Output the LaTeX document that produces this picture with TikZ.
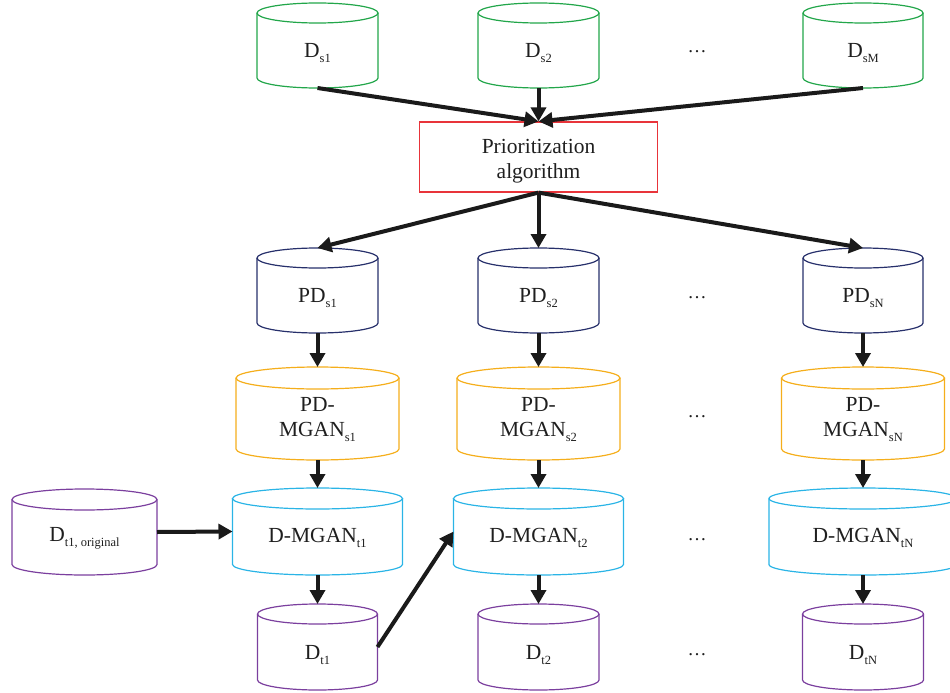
\documentclass[tikz,border=0pt]{standalone}
\usepackage{fontspec}
\setmainfont{Liberation Serif}
\usetikzlibrary{arrows.meta,calc}
\definecolor{cgreen}{HTML}{22A64A}
\definecolor{cred}{HTML}{E8343A}
\definecolor{cnavy}{HTML}{27306B}
\definecolor{corange}{HTML}{F5AE1B}
\definecolor{ccyan}{HTML}{2AB4E6}
\definecolor{cpurple}{HTML}{7B3F9E}
\definecolor{carrow}{HTML}{1A1A1A}
\newcommand{\lsub}[1]{\raisebox{-5pt}{\fontsize{12.5}{12.5}\selectfont #1}}
% name, cx, cy, width, height, colour, ry, text dy, text
\newcommand{\cylnode}[9]{%
  \node[cylbase, minimum width=#4pt, minimum height=#5pt] (#1) at (#2,#3) {};
  \draw[cylline, draw=#6] ($(#1.north west)+(0,#7)$) -- ($(#1.south west)+(0,-#7)$)
     arc[start angle=180, end angle=360, x radius=0.5*#4pt, y radius=#7pt]
     -- ($(#1.north east)+(0,#7)$);
  \draw[cylline, draw=#6] ($(#1.north)+(0,#7)$) ellipse[x radius=0.5*#4pt, y radius=#7pt];
  \node[cyltext] (#1-t) at ($(#1.center)+(0,#8)$) {#9};
}
\tikzset{
  cylbase/.style={rectangle, draw=none, inner sep=0pt, outer sep=0pt},
  cylline/.style={line width=1.2pt},
  cyltext/.style={font=\fontsize{21.5}{25.5}\selectfont, align=center, text=black!88, inner sep=0pt},
  algbox/.style={rectangle, draw=cred, line width=1.2pt, inner sep=0pt},
  dotsnode/.style={font=\fontsize{19}{19}\selectfont, text=black!88, inner sep=0pt},
  arr/.style={draw=carrow, line width=4pt, -{Triangle[length=14pt,width=15pt]}}
}
\begin{document}
\begin{tikzpicture}[x=1pt,y=-1pt]
\useasboundingbox (0,0) rectangle (950,693);
% row 1: source data sets
\cylnode{Ds1}{317.5}{45.5}{121}{85}{cgreen}{10}{8}{D\lsub{s1}}
\cylnode{Ds2}{538.5}{45.5}{121}{85}{cgreen}{10}{8}{D\lsub{s2}}
\cylnode{DsM}{863}{45.5}{120}{85}{cgreen}{10}{8}{D\lsub{sM}}
\node[dotsnode] (dots1) at (697,52) {…};
% algorithm box
\node[algbox, minimum width=238pt, minimum height=70pt] (box) at (538.5,157) {};
\node[cyltext] (box-t) at ($(box.center)+(0,4)$) {Prioritization\\algorithm};
% row 2
\cylnode{PDs1}{317.5}{290.5}{121}{85}{cnavy}{10}{8}{PD\lsub{s1}}
\cylnode{PDs2}{538.5}{290.5}{121}{85}{cnavy}{10}{8}{PD\lsub{s2}}
\cylnode{PDsN}{863}{290.5}{120}{85}{cnavy}{10}{8}{PD\lsub{sN}}
\node[dotsnode] (dots2) at (697,298) {…};
% row 3
\cylnode{PMs1}{317.5}{413.5}{163}{93}{corange}{11}{6}{PD-\\MGAN\lsub{s1}}
\cylnode{PMs2}{538.5}{413.5}{163}{93}{corange}{11}{6}{PD-\\MGAN\lsub{s2}}
\cylnode{PMsN}{863}{413.5}{163}{93}{corange}{11}{6}{PD-\\MGAN\lsub{sN}}
\node[dotsnode] (dots3) at (697,417) {…};
% row 4
\cylnode{Dto}{84.5}{532}{145}{86}{cpurple}{10.5}{6}{D\lsub{t1, original}}
\cylnode{DMt1}{317.5}{531.5}{170}{87}{ccyan}{10.5}{6}{D-MGAN\lsub{t1}}
\cylnode{DMt2}{538.5}{531.5}{170}{87}{ccyan}{10.5}{6}{D-MGAN\lsub{t2}}
\cylnode{DMtN}{863}{531.5}{188}{87}{ccyan}{10.5}{6}{D-MGAN\lsub{tN}}
\node[dotsnode] (dots4) at (697,540) {…};
% row 5
\cylnode{Dt1}{317.5}{647}{120}{86}{cpurple}{10}{8}{D\lsub{t1}}
\cylnode{Dt2}{538.5}{647}{121}{86}{cpurple}{10}{8}{D\lsub{t2}}
\cylnode{DtN}{863}{647}{121}{86}{cpurple}{10}{8}{D\lsub{tN}}
\node[dotsnode] (dots5) at (697,655) {…};
% connectors
\draw[arr] (Ds1.south) -- (box.north);
\draw[arr] (Ds2.south) -- (box.north);
\draw[arr] (DsM.south) -- (box.north);
\draw[arr] (box.south) -- (PDs1.north);
\draw[arr] (box.south) -- (PDs2.north);
\draw[arr] (box.south) -- (PDsN.north);
\draw[arr] (PDs1.south) -- (PMs1.north);
\draw[arr] (PDs2.south) -- (PMs2.north);
\draw[arr] (PDsN.south) -- (PMsN.north);
\draw[arr] (PMs1.south) -- (DMt1.north);
\draw[arr] (PMs2.south) -- (DMt2.north);
\draw[arr] (PMsN.south) -- (DMtN.north);
\draw[arr] (Dto.east) -- (DMt1.west);
\draw[arr] (DMt1.south) -- (Dt1.north);
\draw[arr] (DMt2.south) -- (Dt2.north);
\draw[arr] (DMtN.south) -- (DtN.north);
\draw[arr] (Dt1.east) -- (DMt2.west);
\end{tikzpicture}
\end{document}
